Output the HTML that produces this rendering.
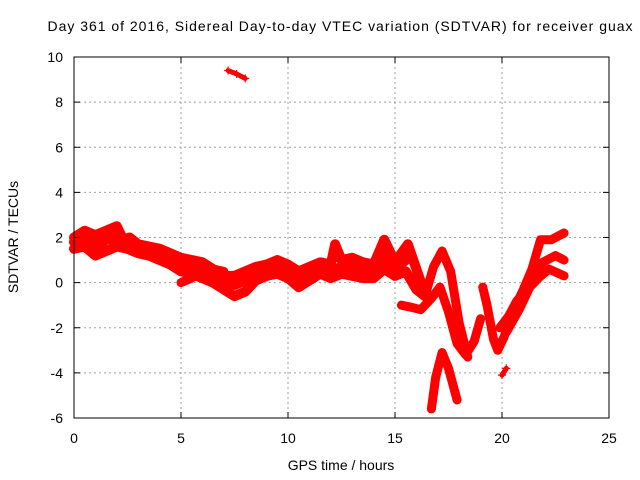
<!DOCTYPE html>
<html><head><meta charset="utf-8"><style>
html,body{margin:0;padding:0;background:#fff}
svg{display:block;font-family:"Liberation Sans",sans-serif}
</style></head><body>
<svg id="chart" width="640" height="480" viewBox="0 0 640 480">
<text x="340" y="31" font-size="14" text-anchor="middle" textLength="585">Day 361 of 2016, Sidereal Day-to-day VTEC variation (SDTVAR) for receiver guax</text>
<g id="grid"></g>
<g id="marks"></g>
<rect x="74" y="57" width="535" height="361" fill="none" stroke="#000" stroke-width="1"/>
<g id="ticks"></g>
<text x="341" y="470" font-size="14" text-anchor="middle">GPS time / hours</text>
<text x="18" y="237" font-size="14" text-anchor="middle" transform="rotate(-90 18 237)">SDTVAR / TECUs</text>
</svg>
<script>
const xTicks=[0,5,10,15,20,25];
const yTicks=[-6,-4,-2,0,2,4,6,8,10];
const track1=[[0,2.0],[0.5,2.3],[1,2.1],[1.5,2.3],[2,2.5],[2.3,1.9],[2.6,2.0],[3,1.7],[3.5,1.6],[4,1.5],[4.5,1.3],[5,1.1],[5.5,1.0],[6,0.9],[6.5,0.6],[7,0.3],[7.5,0.3],[8,0.5],[8.5,0.7],[9,0.8],[9.5,1.0],[10,0.8],[10.5,0.5],[11,0.7],[11.5,0.9],[12,0.8],[12.2,1.7],[12.5,1.0],[13,1.1],[13.5,0.9],[14,0.8],[14.5,1.9],[15,0.9],[15.6,1.7],[16,0.6],[16.4,-0.5]];
const track2=[[0,1.5],[0.5,1.6],[1,1.2],[1.5,1.4],[2,1.6],[2.5,1.5],[3,1.3],[3.5,1.2],[4,1.0],[4.5,0.8],[5,0.5],[5.5,0.4],[6,0.2],[6.5,0],[7,-0.3],[7.5,-0.6],[8,-0.4],[8.5,0.1],[9,0.3],[9.5,0.4],[10,0.2],[10.5,-0.2],[11,0.1],[11.5,0.4],[12,0.2],[12.5,0.4],[13,0.3],[13.5,0.2],[14,0.2],[14.5,0.6],[15,0.3],[15.5,0.5],[16,-0.3],[16.4,-0.6]];
const trackMid=[[0,1.8],[0.5,2.0],[1,1.6],[1.5,1.9],[2,2.0],[2.5,1.8],[3,1.5],[3.5,1.4],[4,1.25],[4.5,1.0],[5,0.8],[5.5,0.7],[6,0.6],[6.5,0.3],[7,0.0],[7.5,-0.1],[8,0.1],[8.5,0.4],[9,0.55],[9.5,0.7],[10,0.5],[10.5,0.2],[11,0.4],[11.5,0.6],[12,0.5],[12.5,0.7],[13,0.7],[13.5,0.55],[14,0.5],[14.5,1.2],[15,0.6],[15.5,1.0]];
const track3=[[5,0],[5.5,0.2],[6,0.5],[6.5,0.6],[7,0.5]];
const track4=[[16.4,-0.6],[16.8,0.7],[17.2,1.4],[17.6,0.5],[18,-1.8],[18.4,-3.3]];
const track5=[[15.3,-1.0],[15.8,-1.1],[16.2,-1.2],[16.7,-0.7],[17.1,-0.2],[17.5,-1.3],[17.9,-2.7],[18.3,-3.2],[18.7,-2.6],[19.0,-1.6]];
const track6=[[16.7,-5.6],[16.9,-4.2],[17.2,-3.1],[17.5,-3.8],[17.9,-5.2]];
const track7=[[19.1,-0.2],[19.3,-1.0],[19.6,-2.5],[19.8,-3.0],[20.1,-2.4],[20.5,-1.3],[21,-0.3],[21.4,0.6],[21.8,1.9],[22.3,1.9],[22.9,2.2]];
const track8=[[19.9,-2.0],[20.3,-1.5],[20.7,-0.8],[21.2,-0.3],[21.7,0.2],[22.2,0.6],[22.9,0.3]];
const track8b=[[20.2,-2.2],[20.8,-1.2],[21.4,0.0],[21.9,0.9],[22.5,1.2],[22.9,1.0]];
const track9=[[20.0,-4.1],[20.2,-3.8]];
const track10=[[7.2,9.4],[7.6,9.25],[8.0,9.05]];
const tracks=[track1,track2,trackMid,track3,track4,track5,track6,track7,track8,track8b,track9,track10];
const widths=[10,10,10,9,9,9,9,9,9,9,5,5];

const X0=74,X1=609,Y0=418,Y1=57;
const xs=v=>X0+(v-0)/(25-0)*(X1-X0);
const ys=v=>Y0-(v+6)/(16)*(Y0-Y1);
const NS="http://www.w3.org/2000/svg";
const grid=document.getElementById('grid'),ticks=document.getElementById('ticks'),marks=document.getElementById('marks');
function mk(tag,attrs,parent){const e=document.createElementNS(NS,tag);for(const k in attrs)e.setAttribute(k,attrs[k]);parent.appendChild(e);return e;}
xTicks.forEach(t=>{
  const x=xs(t);
  if(t>0&&t<25){const g=mk('line',{x1:x,x2:x,y1:Y1,y2:Y0,stroke:'#a0a0a0','stroke-dasharray':'2,3'},grid);
  
  }
  mk('line',{x1:x,x2:x,y1:Y0,y2:Y0-6,stroke:'#000'},ticks);
  mk('line',{x1:x,x2:x,y1:Y1,y2:Y1+6,stroke:'#000'},ticks);
  const l=mk('text',{x:x,y:443,'font-size':14,'text-anchor':'middle'},ticks);
  l.textContent=t;
  
  
});
yTicks.forEach(t=>{
  const y=ys(t);
  if(t>-6&&t<10){const g=mk('line',{x1:X0,x2:X1,y1:y,y2:y,stroke:'#a0a0a0','stroke-dasharray':'2,3'},grid);
  
  }
  mk('line',{x1:X0,x2:X0+6,y1:y,y2:y,stroke:'#000'},ticks);
  mk('line',{x1:X1,x2:X1-6,y1:y,y2:y,stroke:'#000'},ticks);
  const l=mk('text',{x:63,y:y+5,'font-size':14,'text-anchor':'end'},ticks);
  l.textContent=t;
  
  
});
tracks.forEach((tr,i)=>{
  const p=mk('polyline',{points:tr.map(d=>xs(d[0])+','+ys(d[1])).join(' '),fill:'none',stroke:'#ff0000','stroke-width':widths[i],'stroke-linejoin':'round','stroke-linecap':'round'},marks);
  
  
  tr.forEach(d=>{
    const x=xs(d[0]),y=ys(d[1]);
    const m=mk('path',{d:`M${x-4},${y}h8M${x},${y-4}v8`,stroke:'#ff0000','stroke-width':1.2},marks);
    
    
  });
});
</script>
</body></html>
